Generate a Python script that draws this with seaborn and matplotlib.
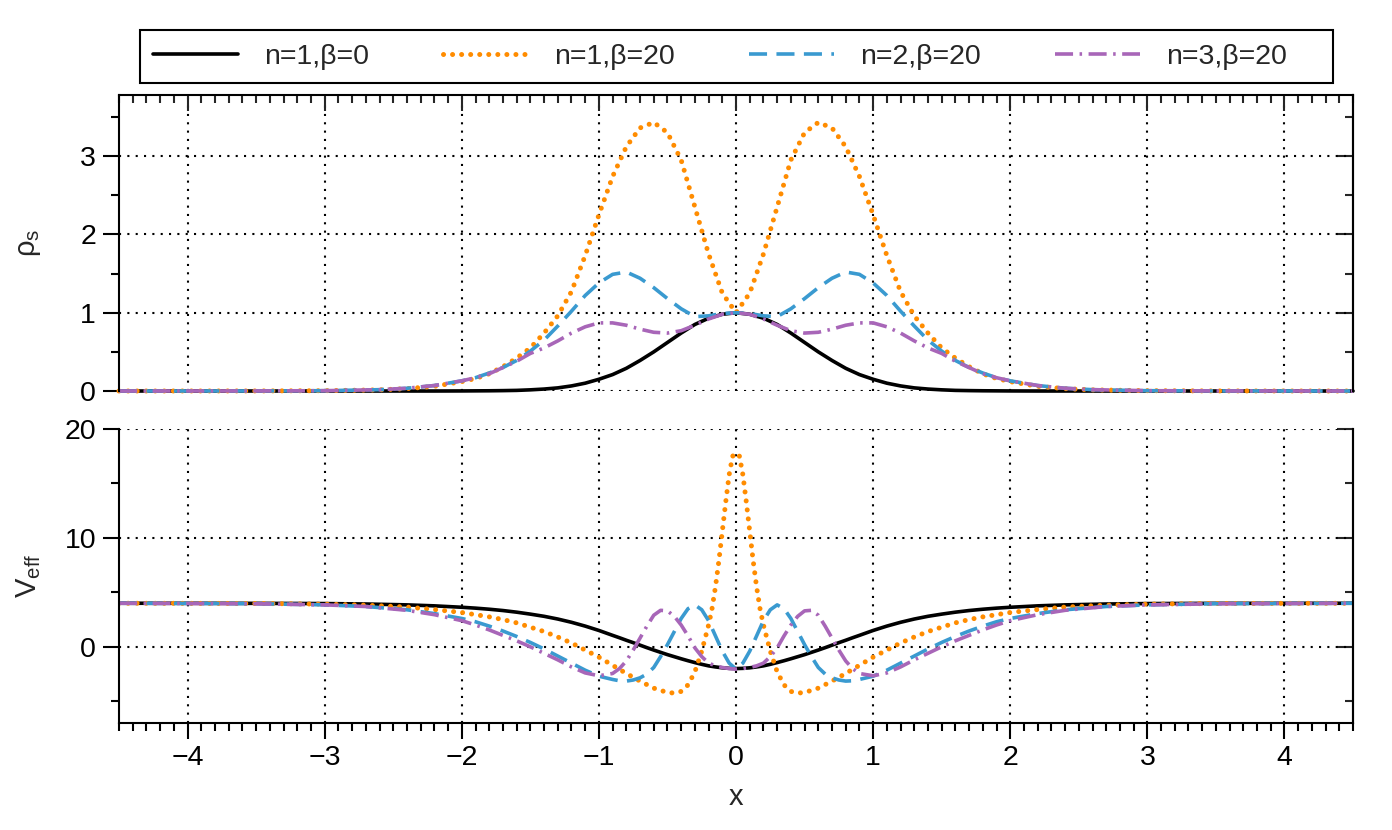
import numpy as np
import matplotlib
matplotlib.use("Agg")
import matplotlib.pyplot as plt
import seaborn as sns
from matplotlib.ticker import MultipleLocator
from matplotlib.patches import Rectangle

# ---------------- data (curves are even in x, x >= 0 half given) ----
labels = ["n=1,β=0", "n=1,β=20", "n=2,β=20", "n=3,β=20"]

x_rho_half = [0, 0.1, 0.2, 0.3, 0.4, 0.5, 0.6, 0.7, 0.8, 0.9, 1.0, 1.1, 1.2, 1.3, 1.4,
              1.5, 1.6, 1.7, 1.8, 1.9, 2.0, 2.2, 2.4, 2.6, 3.0, 3.5, 4.5]
rho_n1_b0 = [1.0, 0.98, 0.93, 0.85, 0.74, 0.62, 0.50, 0.39, 0.29, 0.21, 0.15, 0.10, 0.065,
             0.04, 0.025, 0.015, 0.008, 0.005, 0.003, 0.002, 0.001, 0, 0, 0, 0, 0, 0]
rho_n1_b20 = [1.0, 1.25, 1.75, 2.35, 2.95, 3.30, 3.43, 3.36, 3.12, 2.74, 2.25, 1.73, 1.27,
              0.96, 0.74, 0.55, 0.42, 0.31, 0.22, 0.16, 0.12, 0.06, 0.03, 0.015, 0.004, 0.001, 0]
rho_n2_b20 = [1.0, 0.99, 0.96, 0.95, 1.05, 1.18, 1.32, 1.44, 1.52, 1.49, 1.38, 1.22, 1.02,
              0.83, 0.65, 0.51, 0.39, 0.30, 0.23, 0.17, 0.13, 0.07, 0.035, 0.017, 0.004, 0.001, 0]
rho_n3_b20 = [1.0, 0.98, 0.92, 0.84, 0.77, 0.74, 0.75, 0.79, 0.84, 0.87, 0.87, 0.82, 0.74,
              0.64, 0.55, 0.48, 0.38, 0.30, 0.22, 0.17, 0.13, 0.07, 0.035, 0.017, 0.004, 0.001, 0]

x_veff_half = [0, 0.05, 0.1, 0.15, 0.2, 0.25, 0.3, 0.35, 0.4, 0.45, 0.5, 0.55, 0.6, 0.65,
               0.7, 0.75, 0.8, 0.85, 0.9, 1.0, 1.1, 1.2, 1.3, 1.4, 1.5, 1.6, 1.7, 1.8,
               1.9, 2.0, 2.2, 2.4, 2.7, 3.0, 3.5, 4.5]
veff_n1_b0 = [-2.0, -1.98, -1.93, -1.85, -1.75, -1.61, -1.45, -1.28, -1.1, -0.91, -0.72,
              -0.51, -0.3, -0.08, 0.15, 0.38, 0.6, 0.83, 1.05, 1.5, 1.9, 2.25, 2.55, 2.8,
              3.0, 3.18, 3.33, 3.45, 3.55, 3.63, 3.76, 3.85, 3.93, 3.97, 3.99, 4.0]
veff_n2_b20 = [-2.05, -1.5, -0.4, 1.0, 2.4, 3.4, 3.85, 3.5, 2.6, 1.4, 0.2, -0.9, -1.9,
               -2.5, -2.85, -3.05, -3.15, -3.12, -3.0, -2.7, -2.15, -1.5, -0.85, -0.2, 0.4,
               0.95, 1.45, 1.9, 2.3, 2.6, 3.05, 3.4, 3.7, 3.85, 3.96, 4.0]
veff_n3_b20 = [-2.05, -2.0, -1.9, -1.75, -1.5, -0.9, -0.1, 1.0, 2.0, 2.8, 3.3, 3.35, 2.9,
               1.9, 0.8, -0.3, -1.3, -2.0, -2.45, -2.66, -2.4, -1.85, -1.2, -0.6, 0.0,
               0.55, 1.05, 1.55, 2.0, 2.4, 2.95, 3.35, 3.7, 3.85, 3.95, 4.0]

x_veff_n1b20_half = [0, 0.025, 0.05, 0.075, 0.1, 0.125, 0.15, 0.175, 0.2, 0.25, 0.3, 0.35,
                     0.4, 0.45, 0.5, 0.6, 0.7, 0.8, 0.9, 1.0, 1.1, 1.2, 1.3, 1.4, 1.5, 1.6,
                     1.7, 1.8, 1.9, 2.0, 2.2, 2.4, 2.7, 3.0, 3.5, 4.5]
veff_n1_b20 = [17.8, 17.5, 15.8, 13.3, 10.6, 7.9, 5.5, 3.5, 2.0, -0.4, -2.3, -3.5, -4.1,
               -4.25, -4.2, -3.8, -3.15, -2.45, -1.7, -0.95, -0.3, 0.35, 0.9, 1.4, 1.8,
               2.2, 2.5, 2.75, 2.95, 3.15, 3.42, 3.65, 3.82, 3.92, 3.98, 4.0]


def mirror(xh, yh):
    xh = np.asarray(xh, float)
    yh = np.asarray(yh, float)
    return np.concatenate([-xh[:0:-1], xh]), np.concatenate([yh[:0:-1], yh])


# ---------------- styling ----------------
sns.set_style("white")
plt.rcParams['font.family'] = ['Liberation Sans', 'DejaVu Sans']
plt.rcParams['mathtext.fontset'] = 'custom'
plt.rcParams['mathtext.rm'] = 'Liberation Sans'
plt.rcParams['mathtext.it'] = 'Liberation Sans'

styles = [
    dict(color='black', linewidth=2.6, linestyle='-'),
    dict(color='#FF8C00', linewidth=3.6, linestyle=(0, (0.01, 1.8)), dash_capstyle='round'),
    dict(color='#3A9AD0', linewidth=2.6, linestyle=(0, (5.0, 2.6))),
    dict(color='#A866B8', linewidth=2.6, linestyle=(0, (5.0, 1.8, 0.7, 1.8))),
]

W, H = 1392, 830
fig = plt.figure(figsize=(W / 100, H / 100), dpi=100)
ax1 = fig.add_axes([0.0855, 0.5289, 0.8865, 0.3566])
ax2 = fig.add_axes([0.0855, 0.1289, 0.8865, 0.3542])

rho_series = [rho_n1_b0, rho_n1_b20, rho_n2_b20, rho_n3_b20]
for ys, st in zip(rho_series, styles):
    x, y = mirror(x_rho_half, ys)
    sns.lineplot(x=x, y=y, ax=ax1, errorbar=None, clip_on=False, **st)

veff_series = [(x_veff_half, veff_n1_b0), (x_veff_n1b20_half, veff_n1_b20),
               (x_veff_half, veff_n2_b20), (x_veff_half, veff_n3_b20)]
for (xs, ys), st in zip(veff_series, styles):
    x, y = mirror(xs, ys)
    sns.lineplot(x=x, y=y, ax=ax2, errorbar=None, **st)

grid_kw = dict(color='black', linestyle=(0, (1, 3)), linewidth=1.5)
MAJ, MIN, TW = 11.5, 5.8, 1.5
TICKFS = 20.5

for ax, ylim, ymaj, ymin in [(ax1, (0, 3.78), 1, 0.5), (ax2, (-7, 20), 10, 5)]:
    ax.set_xlim(-4.5, 4.5)
    ax.set_ylim(*ylim)
    ax.xaxis.set_major_locator(MultipleLocator(1))
    ax.xaxis.set_minor_locator(MultipleLocator(0.1))
    ax.yaxis.set_major_locator(MultipleLocator(ymaj))
    ax.yaxis.set_minor_locator(MultipleLocator(ymin))
    ax.grid(True, which='major', **grid_kw)
    ax.set_axisbelow(True)
    for s in ax.spines.values():
        s.set_linewidth(1.5)
        s.set_color('black')
    ax.tick_params(axis='y', which='both', left=True, right=False, direction='out',
                   width=TW, labelsize=TICKFS, pad=5, colors='black')
    ax.tick_params(axis='y', which='major', length=MAJ)
    ax.tick_params(axis='y', which='minor', length=MIN)
    sec = ax.secondary_yaxis('right')
    sec.yaxis.set_major_locator(MultipleLocator(ymaj))
    sec.yaxis.set_minor_locator(MultipleLocator(ymin))
    sec.tick_params(axis='y', which='both', direction='in', width=TW, labelright=False)
    sec.tick_params(axis='y', which='major', length=MAJ)
    sec.tick_params(axis='y', which='minor', length=MIN)
    sec.spines['right'].set_linewidth(1.5)

ax1.spines['bottom'].set_visible(False)
ax2.spines['top'].set_visible(False)

ax1.tick_params(axis='x', which='both', top=True, bottom=False, labeltop=False,
                labelbottom=False, direction='in', width=TW)
ax1.tick_params(axis='x', which='major', length=MAJ)
ax1.tick_params(axis='x', which='minor', length=MIN)

ax2.tick_params(axis='x', which='both', top=False, bottom=True, direction='out',
                width=TW, labelsize=TICKFS, pad=4, colors='black')
ax2.tick_params(axis='x', which='major', length=MAJ)
ax2.tick_params(axis='x', which='minor', length=MIN)

ax1.set_xlabel('')
ax1.set_ylabel('ρ$_\\mathrm{s}$', fontsize=21)
ax1.yaxis.set_label_coords(-0.062, 0.5)
ax2.set_ylabel('V$_\\mathrm{eff}$', fontsize=21)
ax2.yaxis.set_label_coords(-0.062, 0.5)
ax2.set_xlabel('x', fontsize=21)
ax2.xaxis.set_label_coords(0.5, -0.205)

# legend: entries in one row, framed box drawn separately
handles = ax1.get_lines()[:4]
leg = fig.legend(handles, labels, loc='center left',
                 bbox_to_anchor=(153 / W, 1 - 56.5 / H),
                 ncol=4, frameon=False, borderaxespad=0, borderpad=0,
                 handlelength=3.0, handletextpad=0.9, columnspacing=2.6,
                 fontsize=20.5)
fig.add_artist(Rectangle((140 / W, 1 - 83 / H), (1333 - 140) / W, 53 / H,
                         transform=fig.transFigure, fill=False, edgecolor='black',
                         linewidth=1.5))

fig.savefig('out.png', dpi=100)
